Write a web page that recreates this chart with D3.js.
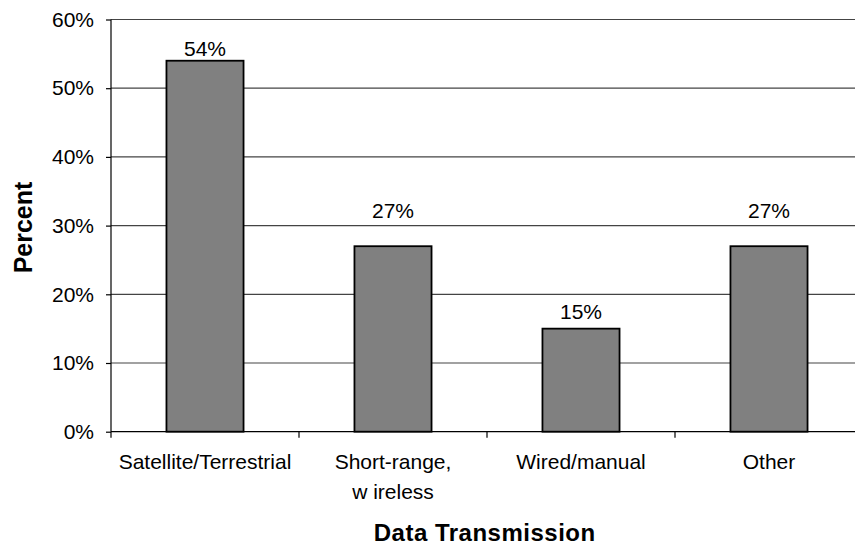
<!DOCTYPE html>
<html><head><meta charset="utf-8">
<script src="https://cdn.jsdelivr.net/npm/d3@7"></script>
<style>
html,body{margin:0;padding:0;background:#fff;}
svg{display:block;font-family:"Liberation Sans",Arial,sans-serif;}
</style></head>
<body>
<svg id="chart" width="855" height="548"></svg>
<script>
const categories = ["Satellite/Terrestrial", "Short-range,\nw ireless", "Wired/manual", "Other"];
const values = [54, 27, 15, 27];
const valueLabels = ["54%", "27%", "15%", "27%"];
const yTicks = [0, 10, 20, 30, 40, 50, 60];
const xTitle = "Data Transmission";
const yTitle = "Percent";

const labelGap = [5, 28, 10, 28]; // px above bar top (style)

const svg = d3.select("#chart");
const m = {left: 111, right: 863, top: 19.5, bottom: 431.7};

const x = d3.scaleBand().domain(categories).range([m.left, m.right]).paddingInner(0).paddingOuter(0);
const y = d3.scaleLinear().domain([0, 60]).range([m.bottom, m.top]);

// gridlines
svg.append("g").selectAll("line").data(yTicks.filter(d => d > 0)).join("line")
  .attr("x1", m.left).attr("x2", m.right)
  .attr("y1", d => y(d)).attr("y2", d => y(d))
  .attr("stroke", "#444").attr("stroke-width", 1.2);

// bars
const bw = x.bandwidth() * 0.41;
svg.append("g").selectAll("rect").data(values).join("rect")
  .attr("x", (d, i) => x(categories[i]) + x.bandwidth() / 2 - bw / 2)
  .attr("y", d => y(d))
  .attr("width", bw)
  .attr("height", d => y(0) - y(d))
  .attr("fill", "#808080")
  .attr("stroke", "#000").attr("stroke-width", 1.8);

// y axis
const yAxis = d3.axisLeft(y).tickValues(yTicks).tickFormat(d => d + "%").tickSize(5).tickPadding(12);
const gy = svg.append("g").attr("transform", `translate(${m.left},0)`).call(yAxis);
gy.select(".domain").attr("stroke", "#000").attr("stroke-width", 1.2).attr("d", `M0,${m.top}V${m.bottom}`);
gy.selectAll(".tick line").attr("stroke", "#000").attr("stroke-width", 1.2);
gy.selectAll(".tick text").attr("font-size", 21).attr("fill", "#000")
  .attr("font-family", "Liberation Sans, Arial, sans-serif");

// x axis
const xAxis = d3.axisBottom(x).tickSize(0).tickFormat(() => "");
const gx = svg.append("g").attr("transform", `translate(0,${m.bottom})`).call(xAxis);
gx.select(".domain").attr("stroke", "#000").attr("stroke-width", 1.2).attr("d", `M${m.left},0H${m.right}`);
// category boundary ticks
const bounds = categories.map(c => x(c)).concat([m.right]);
gx.append("g").selectAll("line").data(bounds).join("line")
  .attr("x1", d => d).attr("x2", d => d).attr("y1", 0).attr("y2", 6)
  .attr("stroke", "#000").attr("stroke-width", 1.2);

// category labels
const catG = svg.append("g");
categories.forEach((c, i) => {
  const t = catG.append("text")
    .attr("x", x(c) + x.bandwidth() / 2)
    .attr("y", 468.5)
    .attr("text-anchor", "middle")
    .attr("font-size", 21).attr("fill", "#000");
  c.split("\n").forEach((line, j) => {
    t.append("tspan").attr("x", x(c) + x.bandwidth() / 2).attr("dy", j === 0 ? 0 : 30.5).text(line);
  });
});

// value labels
svg.append("g").selectAll("text").data(values).join("text")
  .attr("x", (d, i) => x(categories[i]) + x.bandwidth() / 2)
  .attr("y", (d, i) => y(d) - labelGap[i])
  .attr("text-anchor", "middle")
  .attr("font-size", 21).attr("fill", "#000")
  .text((d, i) => valueLabels[i]);

// axis titles
svg.append("text")
  .attr("x", 484.7).attr("y", 541)
  .attr("text-anchor", "middle")
  .attr("font-size", 24).attr("font-weight", "bold").attr("fill", "#000")
  .attr("letter-spacing", 0.5)
  .text(xTitle);

svg.append("text")
  .attr("transform", "translate(31.5,227.5) rotate(-90)")
  .attr("text-anchor", "middle")
  .attr("font-size", 25).attr("font-weight", "bold").attr("fill", "#000")
  .text(yTitle);
</script>
</body></html>
